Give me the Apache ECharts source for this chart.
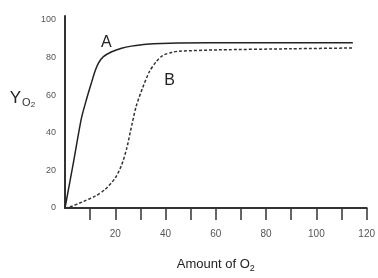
<!DOCTYPE html>
<html><head><meta charset="utf-8">
<script src="https://cdn.jsdelivr.net/npm/echarts@6/dist/echarts.min.js"></script>
<style>html,body{margin:0;padding:0;background:#fff}#c{width:378px;height:278px}</style>
</head><body><div id="c"></div>
<script>
const curveA = [[0,0],[3.4,24.5],[6.5,47.5],[8.7,58.4],[10.4,66],[11.9,72.5],[13.3,77],[15.3,80.4],[18.6,83],[22.5,84.9],[26.4,86],[32.4,87],[45.4,87.6],[70,87.8],[114.5,87.8]];
const curveB = [[0,0],[1.5,0.3],[6.7,3.1],[12,6.3],[15.9,9.8],[19.9,15.8],[22.5,22.7],[24.5,31.4],[26,40.5],[28.3,54],[30.9,63.9],[33.6,72.5],[36.2,77.6],[38.8,81],[42.8,82.8],[45.4,83.3],[61,84],[90,84.6],[114.5,85]];
const xTicks = [10,20,30,40,50,60,70,80,90,100,110,120];
const xLabels = [20,40,60,80,100,120];
const yLabels = [0,20,40,60,80,100];
const curveNames = ['A','B'];
const labelPos = [[16.4,88],[41.6,67.8]];

const chart = echarts.init(document.getElementById('c'));
const font = 'Liberation Sans, Arial, sans-serif';
function mp(i){
  return {symbol:'circle',symbolSize:1,itemStyle:{color:'rgba(0,0,0,0)'},
    label:{show:true,position:'inside',formatter:curveNames[i],fontSize:16,color:'#222',fontFamily:font},
    data:[{coord:labelPos[i]}]};
}
chart.setOption({
  animation:false,
  grid:{left:65,right:9,top:16,bottom:64},
  xAxis:{type:'value',min:0,max:120,interval:10,
    name:'{a|Amount of O}{s|2}',nameLocation:'middle',nameGap:48,
    nameTextStyle:{rich:{a:{fontSize:13,color:'#222',fontFamily:font},s:{fontSize:9,color:'#222',fontFamily:font,padding:[8,0,0,0]}}},
    axisLine:{lineStyle:{color:'#333',width:2}},
    axisTick:{show:true,length:12,customValues:xTicks,lineStyle:{color:'#333',width:1.5}},
    axisLabel:{customValues:xLabels,margin:21,fontSize:10,color:'#555',fontFamily:font},
    splitLine:{show:false}},
  yAxis:{type:'value',min:0,max:102,interval:20,
    name:'{y|Y}{o|O}{s|2}',nameLocation:'middle',nameGap:28,nameRotate:0,
    nameTextStyle:{padding:[0,0,28,0],rich:{y:{fontSize:17,color:'#222',fontFamily:font},o:{fontSize:11,color:'#333',fontFamily:font,padding:[10,0,0,1]},s:{fontSize:8,color:'#333',fontFamily:font,padding:[14,0,0,0]}}},
    axisLine:{show:true,lineStyle:{color:'#333',width:2}},
    axisTick:{show:false},
    axisLabel:{customValues:yLabels,margin:9,fontSize:9,color:'#555',fontFamily:font},
    splitLine:{show:false}},
  series:[
    {name:curveNames[0],type:'line',data:curveA,smooth:0.25,symbol:'none',
     lineStyle:{color:'#222',width:1.5},markPoint:mp(0)},
    {name:curveNames[1],type:'line',data:curveB,smooth:0.25,symbol:'none',
     lineStyle:{color:'#333',width:1.5,type:[3,2]},markPoint:mp(1)}
  ]
});
</script></body></html>
